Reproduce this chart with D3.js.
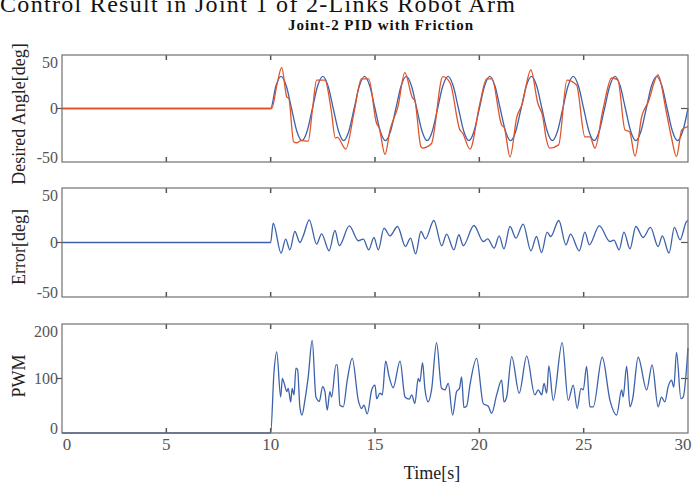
<!DOCTYPE html>
<html>
<head>
<meta charset="utf-8">
<script src="https://cdn.jsdelivr.net/npm/d3@7"></script>
<style>
body { margin: 0; background: #fff; }
svg { display: block; }
</style>
</head>
<body>
<div class="chart-area"></div>
<script>
// values, [time s, value]
var timeTicks = [0, 5, 10, 15, 20, 25, 30];
var angleTicks = [-50, 0, 50];
var pwmTicks = [0, 100, 200];

var desiredAngle = [[0,0],[10,0],
  [10.25,21],[10.5,30],[10.75,21],[11,0],[11.25,-21],[11.5,-30],[11.75,-21],
  [12,0],[12.25,21],[12.5,30],[12.75,21],[13,0],[13.25,-21],[13.5,-30],[13.75,-21],
  [14,0],[14.25,21],[14.5,30],[14.75,21],[15,0],[15.25,-21],[15.5,-30],[15.75,-21],
  [16,0],[16.25,21],[16.5,30],[16.75,21],[17,0],[17.25,-21],[17.5,-30],[17.75,-21],
  [18,0],[18.25,21],[18.5,30],[18.75,21],[19,0],[19.25,-21],[19.5,-30],[19.75,-21],
  [20,0],[20.25,21],[20.5,30],[20.75,21],[21,0],[21.25,-21],[21.5,-30],[21.75,-21],
  [22,0],[22.25,21],[22.5,30],[22.75,21],[23,0],[23.25,-21],[23.5,-30],[23.75,-21],
  [24,0],[24.25,21],[24.5,30],[24.75,21],[25,0],[25.25,-21],[25.5,-30],[25.75,-21],
  [26,0],[26.25,21],[26.5,30],[26.75,21],[27,0],[27.25,-21],[27.5,-30],[27.75,-21],
  [28,0],[28.25,21],[28.5,30],[28.75,21],[29,0],[29.25,-21],[29.5,-30],[29.75,-21],
  [30,0]];

var actualAngle = [[0,0],[10,0],[10.05,0],[10.3,22],[10.53,38.5],[10.77,11],[10.87,9.3],
  [11.1,-31],[11.25,-32],[11.45,-30],[11.8,-30.4],[12,-1.4],[12.2,26.6],[12.6,26.6],
  [12.9,-1.4],[13.1,-27.6],[13.2,-27],[13.6,-37.9],[14,-3.3],[14.35,27.6],[14.7,27.6],
  [15.07,-13.6],[15.2,-18.2],[15.48,-43],[15.72,-20],[16.1,1.7],[16.43,33.5],[16.8,9.8],
  [16.9,8],[17.2,-35.7],[17.28,-37],[17.7,-33],[18.25,29.7],[18.6,23.8],[19.07,-20],
  [19.2,-23],[19.55,-37.9],[20.03,5.1],[20.35,27.6],[20.6,27.6],[21.07,-15.4],[21.2,-18.2],
  [21.47,-45.3],[21.8,-7.7],[22.04,3.3],[22.47,36],[22.8,5.1],[23.04,-7.7],[23.2,-27.6],
  [23.38,-37],[23.8,-34],[24.2,26.6],[24.66,22],[25.06,-26.6],[25.3,-26.6],[25.54,-37],
  [25.92,-1.4],[26.34,28.5],[26.64,26.6],[26.98,-20],[27.2,-21.7],[27.46,-44.4],
  [27.78,-7.7],[28.1,6.4],[28.56,31.3],[28.97,-4.2],[29.2,-26.4],[29.45,-45],[29.7,-20],
  [29.93,-17.3],[30,-17]];

var errorAngle = [[0,0],[10,0],[10.12,17.8],[10.5,-9.7],[10.72,3.1],[10.92,-6.7],[11.16,10.1],
  [11.4,0],[11.55,5.5],[11.85,20.8],[12.2,-1.5],[12.44,8],[12.8,-7.6],[13.08,11],[13.29,-2.8],
  [13.77,15.3],[14.2,1.6],[14.44,3.1],[14.7,-6.7],[14.95,4.6],[15.16,-6.7],[15.43,13.2],
  [15.72,6.1],[16.08,14.7],[16.46,-3.7],[16.7,4],[16.95,-10.4],[17.2,10.1],[17.42,3.4],
  [17.82,20.2],[18.2,-3],[18.43,7.7],[18.78,-6.7],[19.02,7.1],[19.23,-3],[19.74,15.6],
  [20.19,0.9],[20.4,3.4],[20.71,-5.1],[20.95,6.1],[21.18,-5.8],[21.47,14.7],[21.75,4],
  [22.1,16.9],[22.47,-7.6],[22.74,5.5],[22.98,-9.2],[23.25,9.5],[23.42,5.5],[23.81,20.2],
  [24.15,-2.1],[24.37,7.7],[24.79,-7.6],[25.06,9.5],[25.27,-2.1],[25.75,15.3],[26.26,0.9],
  [26.45,2.2],[26.7,-6.7],[26.93,9.5],[27.22,-5.8],[27.5,14.7],[27.85,4.6],[28.2,13.8],
  [28.57,-3.7],[28.77,6.1],[29.09,-9.7],[29.35,13.8],[29.62,2.5],[29.93,19.3],[30,20]];

var pwm = [[0,0],[10,0],[10.16,112],[10.29,149],[10.48,66],[10.56,100],[10.65,91],[10.77,76],
  [10.84,82],[10.96,57],[11.03,82],[11.12,70],[11.21,119],[11.29,116],[11.4,48],[11.5,33],
  [11.64,60],[11.8,103],[11.99,170],[12.17,66],[12.33,58],[12.49,85],[12.6,76],[12.71,42],
  [12.84,76],[12.92,66],[13.13,125],[13.19,125],[13.32,51],[13.48,48],[13.67,97],[13.91,137],
  [14.2,60],[14.36,45],[14.47,51],[14.63,35],[14.84,79],[15,88],[15.08,63],[15.24,73],
  [15.35,70],[15.51,132],[15.68,103],[15.87,83],[16.2,132],[16.44,66],[16.64,62],[16.76,70],
  [16.91,54],[17.07,100],[17.15,94],[17.28,129],[17.39,82],[17.55,57],[17.71,79],[17.95,166],
  [18.19,82],[18.35,79],[18.51,91],[18.72,33],[18.91,76],[19.05,82],[19.15,103],[19.26,47],
  [19.39,49],[19.55,88],[19.87,137],[20.19,54],[20.43,49],[20.59,36],[20.83,70],[21.07,97],
  [21.18,57],[21.31,66],[21.55,140],[21.91,73],[22.27,141],[22.66,70],[22.82,79],[22.99,70],
  [23.1,91],[23.23,73],[23.33,123],[23.54,60],[23.97,166],[24.26,60],[24.5,88],[24.69,45],
  [24.87,82],[24.98,79],[25.14,122],[25.3,48],[25.46,48],[25.89,139],[26.26,60],[26.58,33],
  [26.82,79],[26.89,66],[27.06,122],[27.22,48],[27.35,63],[27.61,139],[28.02,79],[28.28,125],
  [28.57,48],[28.73,66],[28.89,57],[29.05,85],[29.21,97],[29.32,84],[29.45,148],[29.66,63],
  [29.77,66],[30,156]];

var BLUE = "#3d62ab";
var ORANGE = "#e0532a";
var FRAME = "#707070";
var SERIF = "'Liberation Serif', 'DejaVu Serif', serif";

var svg = d3.select(".chart-area")
    .append("svg")
    .attr("width", 693)
    .attr("height", 482);

var x = d3.scaleLinear().domain([0, 30]).range([62, 688]);

// titles (the big one is cut off at the top, as in the source)
svg.append("text")
    .attr("x", 0).attr("y", 12)
    .attr("textLength", 515)
    .style("font-family", SERIF).style("font-size", "24px").attr("fill", "#111")
    .text("Control Result in Joint 1 of 2-Links Robot Arm");
svg.append("text")
    .attr("x", 288).attr("y", 30)
    .attr("textLength", 185)
    .style("font-family", SERIF).style("font-size", "15px").style("font-weight", "bold").attr("fill", "#111")
    .text("Joint-2 PID with Friction");

function drawPanel(top, bottom, domain, ticks, midTick, series, label, labelY, id) {
    var y = d3.scaleLinear().domain(domain).range([bottom, top]);
    var g = svg.append("g");

    g.append("clipPath").attr("id", id)
        .append("rect").attr("x", 62).attr("y", top - 2).attr("width", 627).attr("height", bottom - top + 4);

    // top and bottom inner ticks
    var inner = timeTicks.slice(1, -1);
    g.selectAll(".tt").data(inner).enter().append("line")
        .attr("x1", x).attr("x2", x).attr("y1", top).attr("y2", top + 5)
        .attr("stroke", "#555").attr("stroke-width", 1.5);
    g.selectAll(".tb").data(inner).enter().append("line")
        .attr("x1", x).attr("x2", x).attr("y1", bottom).attr("y2", bottom - 5)
        .attr("stroke", "#555").attr("stroke-width", 1.5);

    // y side ticks
    g.append("line").attr("x1", 56).attr("x2", 62).attr("y1", y(midTick)).attr("y2", y(midTick))
        .attr("stroke", "#555").attr("stroke-width", 1.2);
    g.append("line").attr("x1", 688).attr("x2", 681).attr("y1", y(midTick)).attr("y2", y(midTick))
        .attr("stroke", "#555").attr("stroke-width", 1.2);

    g.selectAll(".yl").data(ticks).enter().append("text")
        .attr("x", 58)
        .attr("y", function(d) { return Math.min(Math.max(y(d), top + 7), bottom - 5); })
        .attr("dy", "0.35em")
        .attr("text-anchor", "end")
        .style("font-family", SERIF).style("font-size", "16px").attr("fill", "#555")
        .text(function(d) { return d; });

    series.forEach(function(s) {
        g.append("path")
            .datum(s.data)
            .attr("clip-path", "url(#" + id + ")")
            .attr("fill", "none")
            .attr("stroke", s.color)
            .attr("stroke-width", 1.3)
            .attr("d", d3.line()
                .x(function(d) { return x(d[0]); })
                .y(function(d) { return y(d[1]); })
                .curve(d3.curveMonotoneX));
    });

    g.append("rect")
        .attr("x", 62).attr("y", top).attr("width", 626).attr("height", bottom - top)
        .attr("fill", "none").attr("stroke", FRAME).attr("stroke-width", 1.2);

    svg.append("text")
        .attr("transform", "translate(25," + labelY + ") rotate(-90)")
        .attr("text-anchor", "middle")
        .style("font-family", SERIF).style("font-size", "18px").attr("fill", "#222")
        .text(label);
}

drawPanel(55, 162, [-50, 50], angleTicks, 0,
    [{data: desiredAngle, color: BLUE}, {data: actualAngle, color: ORANGE}],
    "Desired Angle[deg]", 114, "c1");
drawPanel(188, 297, [-50, 50], angleTicks, 0,
    [{data: errorAngle, color: BLUE}],
    "Error[deg]", 247, "c2");
drawPanel(324, 433, [0, 200], pwmTicks, 100,
    [{data: pwm, color: BLUE}],
    "PWM", 376, "c3");

// time axis labels
svg.selectAll(".xl").data(timeTicks).enter().append("text")
    .attr("x", function(d) { return Math.min(Math.max(x(d), 67), 683); })
    .attr("y", 450)
    .attr("text-anchor", "middle")
    .style("font-family", SERIF).style("font-size", "17px").attr("fill", "#555")
    .text(function(d) { return d; });

svg.append("text")
    .attr("x", 432).attr("y", 479)
    .attr("text-anchor", "middle")
    .style("font-family", SERIF).style("font-size", "18px").attr("fill", "#222")
    .text("Time[s]");
</script>
</body>
</html>
